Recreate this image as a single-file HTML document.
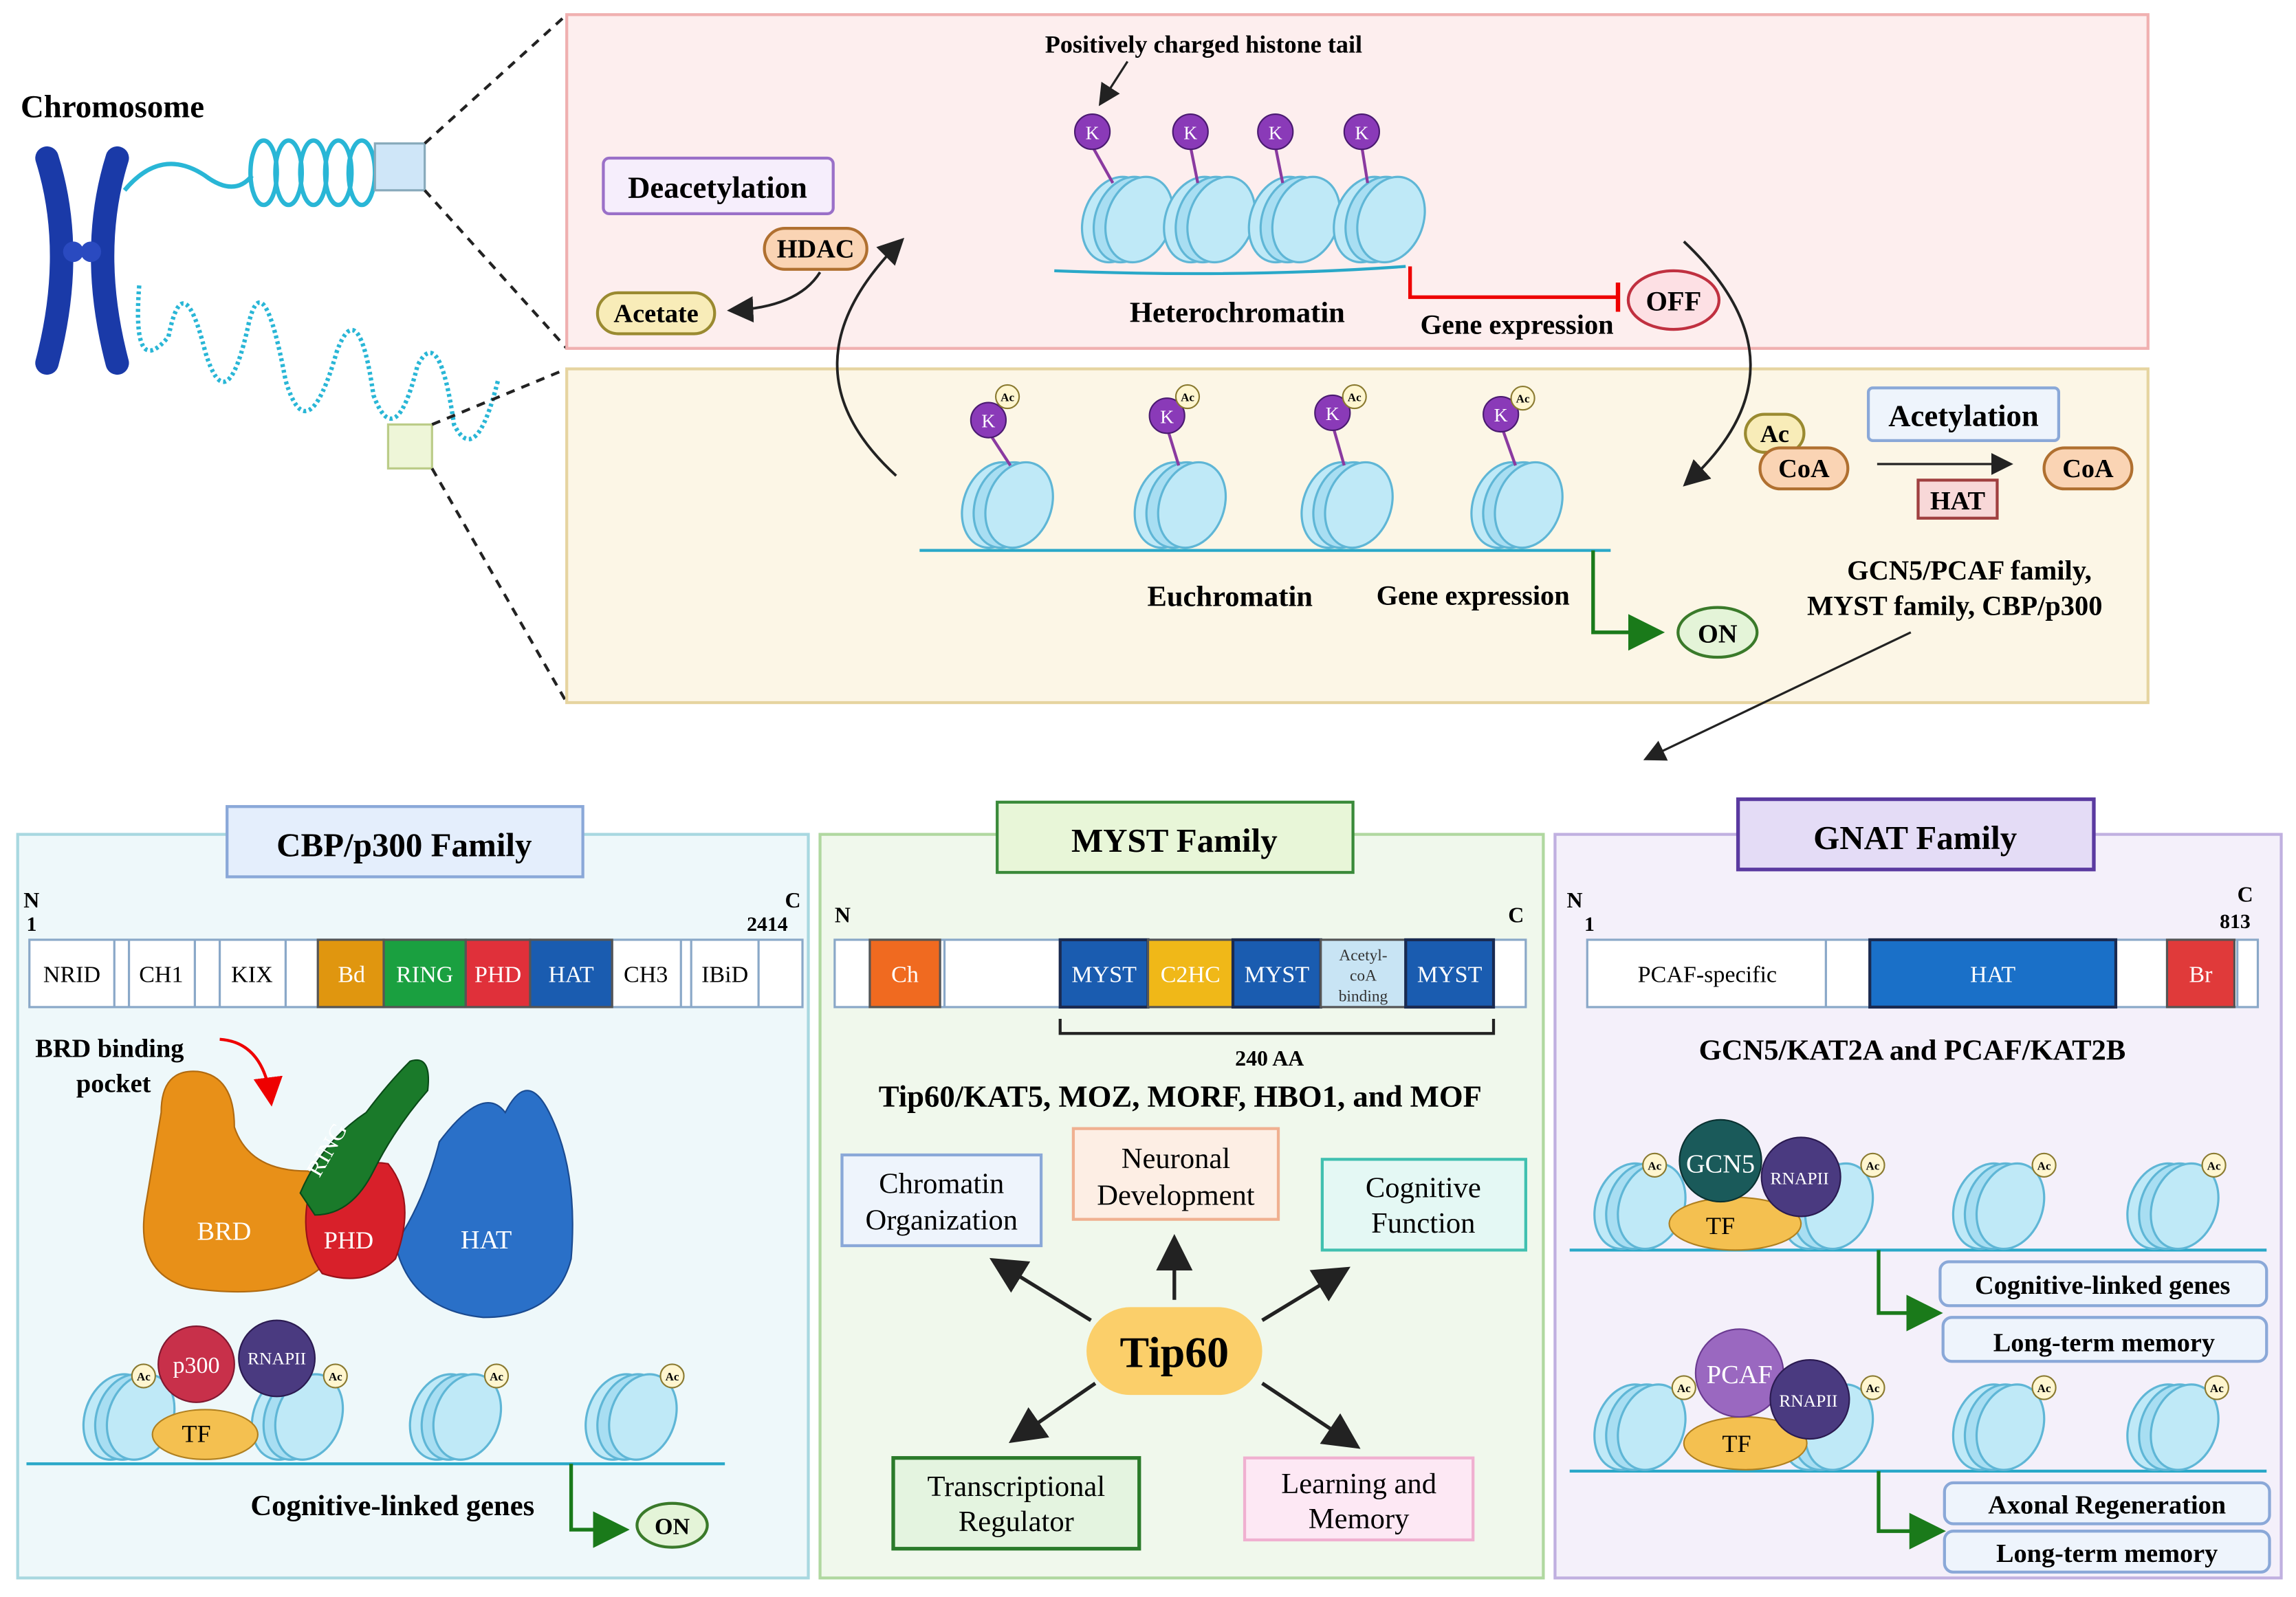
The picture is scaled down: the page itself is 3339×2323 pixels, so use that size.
<!DOCTYPE html>
<html><head><meta charset="utf-8"><style>
html,body{margin:0;padding:0;background:#fff}
svg{display:block}
text{font-family:"Liberation Serif",serif}
.b{font-weight:bold}
</style></head><body>
<svg width="3339" height="2323" viewBox="0 0 1568 1091" xmlns="http://www.w3.org/2000/svg">
<defs>
<g id="nuc">
<ellipse cx="0" cy="0" rx="22" ry="30" fill="#bfe9f7" stroke="#5fb6d6" stroke-width="1.5" transform="rotate(20)"/>
<ellipse cx="8" cy="0" rx="22" ry="30" fill="#a8def2" stroke="#5fb6d6" stroke-width="1.5" transform="rotate(20 8 0)"/>
<ellipse cx="16" cy="0" rx="22" ry="30" fill="#bfe9f7" stroke="#5fb6d6" stroke-width="1.5" transform="rotate(20 16 0)"/>
</g>
<g id="ac"><circle r="8" fill="#fff6d0" stroke="#8a7a30" stroke-width="1"/><text y="3" text-anchor="middle" font-size="8" class="b" font-family="Liberation Sans">Ac</text></g>
<marker id="ar" markerWidth="10" markerHeight="10" refX="8" refY="5" orient="auto"><path d="M0,0 L10,5 L0,10 z" fill="#222"/></marker>
<marker id="ag" markerWidth="10" markerHeight="10" refX="8" refY="5" orient="auto"><path d="M0,0 L10,5 L0,10 z" fill="#1a7a1a"/></marker>
<marker id="arr" markerWidth="10" markerHeight="10" refX="8" refY="5" orient="auto"><path d="M0,0 L10,5 L0,10 z" fill="#e00"/></marker>
</defs>

<!-- chromosome -->
<text x="14" y="80" font-size="22" class="b">Chromosome</text>
<g fill="none" stroke="#1a3aa8" stroke-linecap="round">
<path d="M32,108 Q52,172 32,248" stroke-width="16"/>
<path d="M80,108 Q60,172 80,248" stroke-width="16"/>
</g>
<circle cx="50" cy="172" r="7" fill="#2a4ac0"/><circle cx="62" cy="172" r="7" fill="#2a4ac0"/>
<path d="M85,130 Q110,100 140,120 Q160,135 172,120" fill="none" stroke="#29b6d6" stroke-width="3"/>
<g fill="none" stroke="#29b6d6" stroke-width="3">
<ellipse cx="180" cy="118" rx="9" ry="22"/><ellipse cx="197" cy="118" rx="9" ry="22"/><ellipse cx="214" cy="118" rx="9" ry="22"/><ellipse cx="231" cy="118" rx="9" ry="22"/><ellipse cx="247" cy="118" rx="9" ry="22"/>
</g>
<path d="M95,195 Q90,260 115,230 Q125,180 140,240 Q155,290 170,220 Q180,180 195,260 Q210,310 230,240 Q245,200 255,270 Q270,310 285,250 Q300,220 310,290 Q325,320 340,260" fill="none" stroke="#29b6d6" stroke-width="3" stroke-dasharray="2 2"/>
<rect x="256" y="98" width="34" height="32" fill="#cfe6f8" stroke="#8ab" stroke-width="1.5"/>
<rect x="265" y="290" width="30" height="30" fill="#eef6d8" stroke="#bbcc88" stroke-width="1.5"/>
<g stroke="#222" stroke-width="2" stroke-dasharray="6 5">
<line x1="290" y1="98" x2="387" y2="10"/><line x1="290" y1="130" x2="387" y2="238"/>
<line x1="295" y1="290" x2="387" y2="252"/><line x1="295" y1="320" x2="387" y2="480"/>
</g>

<!-- pink box -->
<rect x="387" y="10" width="1080" height="228" fill="#fdeeee" stroke="#f0b0b0" stroke-width="2"/>
<text x="822" y="36" font-size="17" class="b" text-anchor="middle">Positively charged histone tail</text>
<line x1="770" y1="42" x2="752" y2="70" stroke="#222" stroke-width="1.5" marker-end="url(#ar)"/>
<g>
<use href="#nuc" x="762" y="150"/><use href="#nuc" x="818" y="150"/><use href="#nuc" x="876" y="150"/><use href="#nuc" x="934" y="150"/>
</g>
<g stroke="#8a3aa0" stroke-width="2"><line x1="746" y1="100" x2="760" y2="125"/><line x1="813" y1="100" x2="818" y2="125"/><line x1="871" y1="100" x2="876" y2="125"/><line x1="930" y1="100" x2="934" y2="125"/></g>
<g fill="#8a3ab8" stroke="#4a1a70"><circle cx="746" cy="90" r="12"/><circle cx="813" cy="90" r="12"/><circle cx="871" cy="90" r="12"/><circle cx="930" cy="90" r="12"/></g>
<g fill="#fff" font-size="13" text-anchor="middle" font-family="Liberation Sans"><text x="746" y="95">K</text><text x="813" y="95">K</text><text x="871" y="95">K</text><text x="930" y="95">K</text></g>
<path d="M720,185 Q850,190 960,182" fill="none" stroke="#29a8c8" stroke-width="2"/>
<text x="845" y="220" font-size="20" class="b" text-anchor="middle">Heterochromatin</text>
<path d="M963,182 L963,203 L1105,203" fill="none" stroke="#e00" stroke-width="2.5"/>
<line x1="1105" y1="193" x2="1105" y2="213" stroke="#e00" stroke-width="3"/>
<text x="1036" y="228" font-size="19" class="b" text-anchor="middle">Gene expression</text>
<ellipse cx="1143" cy="205" rx="31" ry="20" fill="#fde0e4" stroke="#c03040" stroke-width="2"/>
<text x="1143" y="212" font-size="19" class="b" text-anchor="middle">OFF</text>
<rect x="412" y="108" width="157" height="38" rx="4" fill="#f6eefc" stroke="#9a70c8" stroke-width="2"/>
<text x="490" y="135" font-size="21" class="b" text-anchor="middle">Deacetylation</text>
<rect x="522" y="156" width="70" height="28" rx="14" fill="#fad4b4" stroke="#b07030" stroke-width="2"/>
<text x="557" y="176" font-size="18" class="b" text-anchor="middle">HDAC</text>
<rect x="408" y="200" width="80" height="28" rx="14" fill="#f8ecb8" stroke="#9a8a30" stroke-width="2"/>
<text x="448" y="220" font-size="18" class="b" text-anchor="middle">Acetate</text>
<path d="M560,186 Q545,210 500,212" fill="none" stroke="#222" stroke-width="1.8" marker-end="url(#ar)"/>

<!-- yellow box -->
<rect x="387" y="252" width="1080" height="228" fill="#fcf6e6" stroke="#e6d4a0" stroke-width="2"/>
<path d="M612,325 Q530,250 615,165" fill="none" stroke="#222" stroke-width="1.8" marker-end="url(#ar)"/>
<path d="M1150,165 Q1240,250 1152,330" fill="none" stroke="#222" stroke-width="1.8" marker-end="url(#ar)"/>
<path d="M628,376 L1100,376" fill="none" stroke="#29a8c8" stroke-width="2"/>
<g><use href="#nuc" x="680" y="345"/><use href="#nuc" x="798" y="345"/><use href="#nuc" x="912" y="345"/><use href="#nuc" x="1028" y="345"/></g>
<g stroke="#8a3aa0" stroke-width="2"><line x1="675" y1="295" x2="690" y2="318"/><line x1="797" y1="292" x2="805" y2="318"/><line x1="910" y1="290" x2="918" y2="318"/><line x1="1025" y1="290" x2="1035" y2="318"/></g>
<g fill="#8a3ab8" stroke="#4a1a70"><circle cx="675" cy="287" r="12"/><circle cx="797" cy="284" r="12"/><circle cx="910" cy="282" r="12"/><circle cx="1025" cy="283" r="12"/></g>
<g fill="#fff" font-size="13" text-anchor="middle" font-family="Liberation Sans"><text x="675" y="292">K</text><text x="797" y="289">K</text><text x="910" y="287">K</text><text x="1025" y="288">K</text></g>
<use href="#ac" x="688" y="271"/><use href="#ac" x="811" y="271"/><use href="#ac" x="925" y="271"/><use href="#ac" x="1040" y="272"/>
<text x="840" y="414" font-size="20" class="b" text-anchor="middle">Euchromatin</text>
<text x="1006" y="413" font-size="19" class="b" text-anchor="middle">Gene expression</text>
<path d="M1088,376 L1088,432 L1132,432" fill="none" stroke="#1a7a1a" stroke-width="2.5" marker-end="url(#ag)"/>
<ellipse cx="1173" cy="432" rx="27" ry="17" fill="#e4f4d8" stroke="#3a7a2a" stroke-width="2"/>
<text x="1173" y="439" font-size="18" class="b" text-anchor="middle">ON</text>
<rect x="1192" y="283" width="40" height="26" rx="13" fill="#f8ecb8" stroke="#9a8a30" stroke-width="2"/>
<text x="1212" y="302" font-size="17" class="b" text-anchor="middle">Ac</text>
<rect x="1202" y="306" width="60" height="28" rx="14" fill="#fad4b4" stroke="#b07030" stroke-width="2"/>
<text x="1232" y="326" font-size="18" class="b" text-anchor="middle">CoA</text>
<rect x="1276" y="265" width="130" height="36" rx="3" fill="#eef4fc" stroke="#8aa8d8" stroke-width="2"/>
<text x="1341" y="291" font-size="21" class="b" text-anchor="middle">Acetylation</text>
<line x1="1282" y1="317" x2="1372" y2="317" stroke="#222" stroke-width="1.5" marker-end="url(#ar)"/>
<rect x="1310" y="328" width="54" height="26" fill="#f8d8d8" stroke="#a04040" stroke-width="2"/>
<text x="1337" y="348" font-size="18" class="b" text-anchor="middle">HAT</text>
<rect x="1396" y="306" width="60" height="28" rx="14" fill="#fad4b4" stroke="#b07030" stroke-width="2"/>
<text x="1426" y="326" font-size="18" class="b" text-anchor="middle">CoA</text>
<text x="1345" y="396" font-size="19" class="b" text-anchor="middle">GCN5/PCAF family,</text>
<text x="1335" y="420" font-size="19" class="b" text-anchor="middle">MYST family, CBP/p300</text>
<line x1="1305" y1="432" x2="1125" y2="518" stroke="#222" stroke-width="1.5" marker-end="url(#ar)"/>

<!-- CBP panel -->
<rect x="12" y="570" width="540" height="508" fill="#eef8fa" stroke="#a8d8e0" stroke-width="2"/>
<rect x="155" y="551" width="243" height="48" fill="#e4eefc" stroke="#8aa8d8" stroke-width="2"/>
<text x="276" y="585" font-size="23" class="b" text-anchor="middle">CBP/p300 Family</text>
<text x="16" y="620" font-size="15" class="b">N</text><text x="18" y="636" font-size="14" class="b">1</text>
<text x="536" y="620" font-size="15" class="b">C</text><text x="510" y="636" font-size="14" class="b">2414</text>
<rect x="20" y="642" width="528" height="46" fill="#fff" stroke="#8aa8c8" stroke-width="1.5"/>
<g stroke="#8aa8c8" stroke-width="1.5" fill="none"><line x1="78" y1="642" x2="78" y2="688"/><line x1="88" y1="642" x2="88" y2="688"/><line x1="133" y1="642" x2="133" y2="688"/><line x1="150" y1="642" x2="150" y2="688"/><line x1="195" y1="642" x2="195" y2="688"/><line x1="418" y1="642" x2="418" y2="688"/><line x1="465" y1="642" x2="465" y2="688"/><line x1="472" y1="642" x2="472" y2="688"/><line x1="518" y1="642" x2="518" y2="688"/></g>
<rect x="217" y="642" width="45" height="46" fill="#e0960f" stroke="#555" stroke-width="1.5"/>
<rect x="262" y="642" width="56" height="46" fill="#1aa040" stroke="#555" stroke-width="1.5"/>
<rect x="318" y="642" width="44" height="46" fill="#e0303a" stroke="#555" stroke-width="1.5"/>
<rect x="362" y="642" width="56" height="46" fill="#1a5cb0" stroke="#555" stroke-width="1.5"/>
<g font-size="16" text-anchor="middle" font-family="Liberation Serif"><text x="49" y="671">NRID</text><text x="110" y="671">CH1</text><text x="172" y="671">KIX</text><text x="441" y="671">CH3</text><text x="495" y="671">IBiD</text>
<g fill="#fff"><text x="240" y="671">Bd</text><text x="290" y="671">RING</text><text x="340" y="671">PHD</text><text x="390" y="671">HAT</text></g></g>
<text x="24" y="722" font-size="18" class="b">BRD binding</text><text x="52" y="746" font-size="18" class="b">pocket</text>
<path d="M150,710 Q180,712 185,752" fill="none" stroke="#e00" stroke-width="2" marker-end="url(#arr)"/>
<path d="M110,760 Q110,730 135,732 Q160,735 160,770 Q170,800 210,800 Q235,810 225,860 Q200,890 130,880 Q90,870 100,820 Q105,790 110,760 Z" fill="#e89018" stroke="#b06a10"/>
<path d="M300,780 Q330,740 345,760 Q360,730 375,760 Q395,800 390,860 Q380,900 330,900 Q280,895 270,850 Q290,820 300,780 Z" fill="#2a70c8" stroke="#1a4a90"/>
<path d="M210,820 Q235,790 265,795 Q285,820 270,860 Q250,880 220,870 Q205,850 210,820 Z" fill="#d8202a" stroke="#9a1018"/>
<path d="M205,815 Q220,780 250,760 Q265,740 280,725 Q295,720 292,745 Q270,770 255,800 Q240,830 215,830 Z" fill="#1a7a2a" stroke="#0a4a18"/>
<text x="153" y="847" font-size="18" fill="#fff" text-anchor="middle">BRD</text>
<text x="238" y="853" font-size="17" fill="#fff" text-anchor="middle">PHD</text>
<text x="332" y="853" font-size="18" fill="#fff" text-anchor="middle">HAT</text>
<text x="218" y="805" font-size="16" fill="#fff" transform="rotate(-60 218 805)">RING</text>
<path d="M18,1000 L495,1000" stroke="#29a8c8" stroke-width="2"/>
<use href="#nuc" x="80" y="968"/><use href="#nuc" x="195" y="968"/><use href="#nuc" x="303" y="968"/><use href="#nuc" x="423" y="968"/>
<ellipse cx="140" cy="980" rx="36" ry="17" fill="#f4c050" stroke="#b08020"/>
<text x="134" y="985" font-size="17" text-anchor="middle">TF</text>
<circle cx="134" cy="932" r="26" fill="#c8304a" stroke="#801830"/>
<text x="134" y="938" font-size="16" fill="#fff" text-anchor="middle">p300</text>
<circle cx="189" cy="928" r="26" fill="#4a3a80" stroke="#2a1a50"/>
<text x="189" y="932" font-size="12" fill="#fff" text-anchor="middle">RNAPII</text>
<use href="#ac" x="98" y="940"/><use href="#ac" x="229" y="940"/><use href="#ac" x="339" y="940"/><use href="#ac" x="459" y="940"/>
<text x="268" y="1035" font-size="20" class="b" text-anchor="middle">Cognitive-linked genes</text>
<path d="M390,1000 L390,1045 L425,1045" fill="none" stroke="#1a7a1a" stroke-width="2.5" marker-end="url(#ag)"/>
<ellipse cx="459" cy="1042" rx="24" ry="15" fill="#e4f4d8" stroke="#3a7a2a" stroke-width="2"/>
<text x="459" y="1048" font-size="16" class="b" text-anchor="middle">ON</text>

<!-- MYST panel -->
<rect x="560" y="570" width="494" height="508" fill="#f0f8ec" stroke="#b0d8a0" stroke-width="2"/>
<rect x="681" y="548" width="243" height="48" fill="#e8f6d8" stroke="#3a8a3a" stroke-width="2"/>
<text x="802" y="582" font-size="23" class="b" text-anchor="middle">MYST Family</text>
<text x="570" y="630" font-size="15" class="b">N</text><text x="1030" y="630" font-size="15" class="b">C</text>
<rect x="570" y="642" width="472" height="46" fill="#fff" stroke="#8aa8c8" stroke-width="1.5"/>
<line x1="594" y1="642" x2="594" y2="688" stroke="#8aa8c8" stroke-width="1.5"/>
<line x1="645" y1="642" x2="645" y2="688" stroke="#8aa8c8" stroke-width="1.5"/>
<rect x="594" y="642" width="48" height="46" fill="#f06a20" stroke="#555" stroke-width="1.5"/>
<rect x="724" y="642" width="60" height="46" fill="#1a5cb0" stroke="#1a2a50" stroke-width="2"/>
<rect x="784" y="642" width="58" height="46" fill="#f0b818" stroke="#555" stroke-width="1.5"/>
<rect x="842" y="642" width="60" height="46" fill="#1a5cb0" stroke="#1a2a50" stroke-width="2"/>
<rect x="902" y="642" width="58" height="46" fill="#c8e4f4" stroke="#555" stroke-width="1.5"/>
<rect x="960" y="642" width="60" height="46" fill="#1a5cb0" stroke="#1a2a50" stroke-width="2"/>
<g font-size="16" fill="#fff" text-anchor="middle"><text x="618" y="671">Ch</text><text x="754" y="671">MYST</text><text x="813" y="671">C2HC</text><text x="872" y="671">MYST</text><text x="990" y="671">MYST</text></g>
<g font-size="11" text-anchor="middle" fill="#333"><text x="931" y="656">Acetyl-</text><text x="931" y="670">coA</text><text x="931" y="684">binding</text></g>
<path d="M724,696 L724,706 L1020,706 L1020,696" fill="none" stroke="#222" stroke-width="2"/>
<text x="867" y="728" font-size="15" class="b" text-anchor="middle">240 AA</text>
<text x="806" y="756" font-size="21" class="b" text-anchor="middle">Tip60/KAT5, MOZ, MORF, HBO1, and MOF</text>
<rect x="575" y="789" width="136" height="62" fill="#eef4fc" stroke="#8aa8d8" stroke-width="2"/>
<text x="643" y="815" font-size="20" text-anchor="middle">Chromatin</text><text x="643" y="840" font-size="20" text-anchor="middle">Organization</text>
<rect x="733" y="771" width="140" height="62" fill="#fdeee4" stroke="#f0b090" stroke-width="2"/>
<text x="803" y="798" font-size="20" text-anchor="middle">Neuronal</text><text x="803" y="823" font-size="20" text-anchor="middle">Development</text>
<rect x="903" y="792" width="139" height="62" fill="#e4f8f4" stroke="#40c0b0" stroke-width="2"/>
<text x="972" y="818" font-size="20" text-anchor="middle">Cognitive</text><text x="972" y="842" font-size="20" text-anchor="middle">Function</text>
<rect x="610" y="996" width="168" height="62" fill="#e4f4e0" stroke="#2a7a2a" stroke-width="2.5"/>
<text x="694" y="1022" font-size="20" text-anchor="middle">Transcriptional</text><text x="694" y="1046" font-size="20" text-anchor="middle">Regulator</text>
<rect x="850" y="996" width="156" height="56" fill="#fde8f4" stroke="#f0b0d0" stroke-width="2"/>
<text x="928" y="1020" font-size="20" text-anchor="middle">Learning and</text><text x="928" y="1044" font-size="20" text-anchor="middle">Memory</text>
<rect x="742" y="893" width="120" height="60" rx="30" fill="#fbcf6a"/>
<text x="802" y="934" font-size="30" class="b" text-anchor="middle">Tip60</text>
<g stroke="#222" stroke-width="2.5"><line x1="802" y1="888" x2="802" y2="848" marker-end="url(#ar)"/><line x1="745" y1="902" x2="680" y2="862" marker-end="url(#ar)"/><line x1="862" y1="902" x2="918" y2="868" marker-end="url(#ar)"/><line x1="748" y1="945" x2="693" y2="983" marker-end="url(#ar)"/><line x1="862" y1="945" x2="925" y2="987" marker-end="url(#ar)"/></g>

<!-- GNAT panel -->
<rect x="1062" y="570" width="496" height="508" fill="#f4f0fa" stroke="#c0b0e0" stroke-width="2"/>
<rect x="1187" y="546" width="243" height="48" fill="#e4dcf6" stroke="#5a3aa0" stroke-width="2.5"/>
<text x="1308" y="580" font-size="23" class="b" text-anchor="middle">GNAT Family</text>
<text x="1070" y="620" font-size="15" class="b">N</text><text x="1082" y="636" font-size="14" class="b">1</text>
<text x="1528" y="616" font-size="15" class="b">C</text><text x="1516" y="634" font-size="14" class="b">813</text>
<rect x="1084" y="642" width="458" height="46" fill="#fff" stroke="#8aa8c8" stroke-width="1.5"/>
<line x1="1247" y1="642" x2="1247" y2="688" stroke="#8aa8c8" stroke-width="1.5"/>
<line x1="1528" y1="642" x2="1528" y2="688" stroke="#8aa8c8" stroke-width="1.5"/>
<rect x="1277" y="642" width="168" height="46" fill="#1a70c8" stroke="#1a2a50" stroke-width="2"/>
<rect x="1480" y="642" width="46" height="46" fill="#e03a3a" stroke="#555" stroke-width="1.5"/>
<text x="1166" y="671" font-size="16" text-anchor="middle">PCAF-specific</text>
<text x="1361" y="671" font-size="16" fill="#fff" text-anchor="middle">HAT</text>
<text x="1503" y="671" font-size="16" fill="#fff" text-anchor="middle">Br</text>
<text x="1306" y="724" font-size="20" class="b" text-anchor="middle">GCN5/KAT2A and PCAF/KAT2B</text>
<path d="M1072,854 L1548,854" stroke="#29a8c8" stroke-width="2"/>
<use href="#nuc" x="1112" y="824"/><use href="#nuc" x="1240" y="824"/><use href="#nuc" x="1357" y="824"/><use href="#nuc" x="1476" y="824"/>
<ellipse cx="1185" cy="836" rx="45" ry="18" fill="#f4c050" stroke="#b08020"/>
<text x="1175" y="843" font-size="17" text-anchor="middle">TF</text>
<circle cx="1175" cy="793" r="28" fill="#1a5a5a" stroke="#0a3030"/>
<text x="1175" y="801" font-size="18" fill="#fff" text-anchor="middle">GCN5</text>
<circle cx="1230" cy="804" r="27" fill="#4a3a80" stroke="#2a1a50"/>
<text x="1229" y="809" font-size="12" fill="#fff" text-anchor="middle">RNAPII</text>
<use href="#ac" x="1130" y="796"/><use href="#ac" x="1279" y="796"/><use href="#ac" x="1396" y="796"/><use href="#ac" x="1512" y="796"/>
<path d="M1283,854 L1283,897 L1322,897" fill="none" stroke="#1a7a1a" stroke-width="2.5" marker-end="url(#ag)"/>
<rect x="1325" y="862" width="223" height="30" rx="6" fill="#eef4fc" stroke="#8aa8d8" stroke-width="2"/>
<text x="1436" y="884" font-size="18" class="b" text-anchor="middle">Cognitive-linked genes</text>
<rect x="1327" y="900" width="221" height="30" rx="6" fill="#eef4fc" stroke="#8aa8d8" stroke-width="2"/>
<text x="1437" y="923" font-size="18" class="b" text-anchor="middle">Long-term memory</text>
<path d="M1072,1005 L1548,1005" stroke="#29a8c8" stroke-width="2"/>
<use href="#nuc" x="1112" y="975"/><use href="#nuc" x="1240" y="975"/><use href="#nuc" x="1357" y="975"/><use href="#nuc" x="1476" y="975"/>
<ellipse cx="1192" cy="986" rx="42" ry="18" fill="#f4c050" stroke="#b08020"/>
<text x="1186" y="992" font-size="17" text-anchor="middle">TF</text>
<circle cx="1188" cy="938" r="30" fill="#9a68c0" stroke="#6a3a90"/>
<text x="1188" y="945" font-size="18" fill="#fff" text-anchor="middle">PCAF</text>
<circle cx="1236" cy="956" r="27" fill="#4a3a80" stroke="#2a1a50"/>
<text x="1235" y="961" font-size="12" fill="#fff" text-anchor="middle">RNAPII</text>
<use href="#ac" x="1150" y="948"/><use href="#ac" x="1279" y="948"/><use href="#ac" x="1396" y="948"/><use href="#ac" x="1514" y="948"/>
<path d="M1283,1005 L1283,1046 L1324,1046" fill="none" stroke="#1a7a1a" stroke-width="2.5" marker-end="url(#ag)"/>
<rect x="1328" y="1013" width="222" height="28" rx="6" fill="#eef4fc" stroke="#8aa8d8" stroke-width="2"/>
<text x="1439" y="1034" font-size="18" class="b" text-anchor="middle">Axonal Regeneration</text>
<rect x="1328" y="1046" width="222" height="28" rx="6" fill="#eef4fc" stroke="#8aa8d8" stroke-width="2"/>
<text x="1439" y="1067" font-size="18" class="b" text-anchor="middle">Long-term memory</text>
</svg>
</body></html>
